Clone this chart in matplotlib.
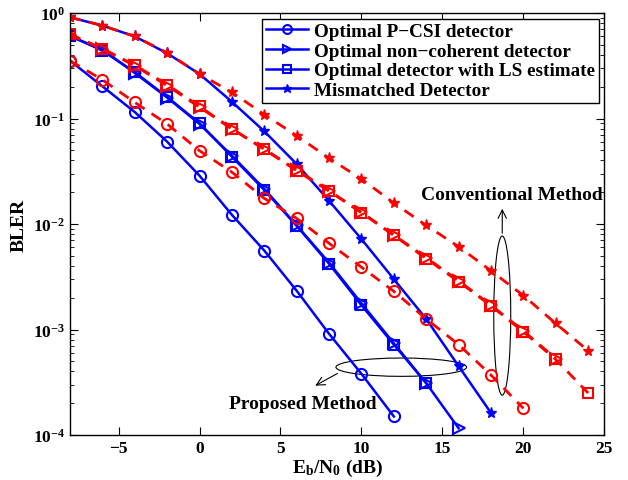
import matplotlib
matplotlib.use("Agg")
import matplotlib.pyplot as plt
from matplotlib.patches import Ellipse
import numpy as np

plt.rcParams['font.family'] = ['Liberation Serif', 'DejaVu Serif']
plt.rcParams['font.weight'] = 'bold'
plt.rcParams['mathtext.fontset'] = 'custom'
plt.rcParams['mathtext.rm'] = 'Liberation Serif:bold'
plt.rcParams['mathtext.it'] = 'Liberation Serif:bold'
plt.rcParams['mathtext.bf'] = 'Liberation Serif:bold'

# Data
x_blue_circle = [-8, -6, -4, -2, 0, 2, 4, 6, 8, 10, 12]
blue_circle = [0.353, 0.202, 0.115, 0.0603, 0.0287, 0.0122, 0.0056, 0.00233, 0.00091, 0.00038, 0.00015]
x_blue_tri = [-8, -6, -4, -2, 0, 2, 4, 6, 8, 10, 12, 14, 16]
blue_tri = [0.60, 0.45, 0.27, 0.158, 0.0887, 0.0444, 0.0215, 0.0097, 0.0043, 0.00177, 0.00074, 0.00031, 0.000116]
x_blue_sq = [-8, -6, -4, -2, 0, 2, 4, 6, 8, 10, 12, 14]
blue_sq = [0.61, 0.44, 0.275, 0.16, 0.090, 0.0435, 0.021, 0.0096, 0.0042, 0.0017, 0.00072, 0.00031]
x_blue_star = [-8, -6, -4, -2, 0, 2, 4, 6, 8, 10, 12, 14, 16, 18]
blue_star = [0.91, 0.76, 0.60, 0.415, 0.264, 0.144, 0.0756, 0.037, 0.0166, 0.0072, 0.0030, 0.00126, 0.00045, 0.000162]

x_red_circle = [-8, -6, -4, -2, 0, 2, 4, 6, 8, 10, 12, 14, 16, 18, 20]
red_circle = [0.353, 0.233, 0.142, 0.0887, 0.0495, 0.031, 0.0175, 0.0113, 0.00656, 0.0039, 0.0023, 0.00126, 0.00072, 0.00037, 0.000179]
x_red_tri = [-8, -6, -4, -2, 0, 2, 4, 6, 8, 10, 12, 14, 16, 18, 20, 22]
red_tri = [0.62, 0.456, 0.316, 0.205, 0.128, 0.0795, 0.0514, 0.0325, 0.0207, 0.0129, 0.00787, 0.0048, 0.0029, 0.0017, 0.00097, 0.00053]
x_red_sq = [-8, -6, -4, -2, 0, 2, 4, 6, 8, 10, 12, 14, 16, 18, 20, 22, 24]
red_sq = [0.63, 0.46, 0.32, 0.21, 0.13, 0.08, 0.051, 0.032, 0.0205, 0.0128, 0.0078, 0.0047, 0.00285, 0.00168, 0.00095, 0.00052, 0.00025]
x_red_star = [-8, -6, -4, -2, 0, 2, 4, 6, 8, 10, 12, 14, 16, 18, 20, 22, 24]
red_star = [0.91, 0.76, 0.60, 0.42, 0.264, 0.177, 0.109, 0.0687, 0.042, 0.0267, 0.0158, 0.0097, 0.0061, 0.0036, 0.0021, 0.00114, 0.00063]

labels = ['Optimal P\u2212CSI detector', 'Optimal non\u2212coherent detector',
          'Optimal detector with LS estimate', 'Mismatched Detector']

BLUE = '#0000ff'
RED = '#ff0000'

fig = plt.figure(figsize=(6.28, 4.81), dpi=100)
ax = fig.add_axes([70/628, 45/481, 534.3/628, 422/481])

lw_b = 1.8
lw_r = 2.0
ms = 8
ax.plot(x_blue_circle, blue_circle, '-', color=BLUE, lw=lw_b, marker='o', ms=ms, mfc='none', mew=1.5, label=labels[0])
ax.plot(x_blue_tri, blue_tri, '-', color=BLUE, lw=lw_b, marker='>', ms=ms, mfc='none', mew=1.5, label=labels[1])
ax.plot(x_blue_sq, blue_sq, '-', color=BLUE, lw=lw_b, marker='s', ms=7, mfc='none', mew=1.5, label=labels[2])
ax.plot(x_blue_star, blue_star, '-', color=BLUE, lw=lw_b, marker='*', ms=8, label=labels[3])

ax.plot(x_red_circle, red_circle, '--', color=RED, lw=lw_r, marker='o', ms=ms, mfc='none', mew=1.5, dashes=(4, 3))
ax.plot(x_red_tri, red_tri, '--', color=RED, lw=lw_r, marker='>', ms=ms, mfc='none', mew=1.5, dashes=(4, 3))
ax.plot(x_red_sq, red_sq, '--', color=RED, lw=lw_r, marker='s', ms=7, mfc='none', mew=1.5, dashes=(4, 3))
ax.plot(x_red_star, red_star, '--', color=RED, lw=lw_r, marker='*', ms=8, dashes=(4, 3))

ax.set_yscale('log')
ax.set_xlim(-8, 25)
ax.set_ylim(1e-4, 1)
ax.set_xticks([-5, 0, 5, 10, 15, 20, 25])
ax.set_xticklabels(['\u22125', '0', '5', '10', '15', '20', '25'])
ax.tick_params(which='both', direction='in', top=True, right=True, labelsize=12.5)
ax.tick_params(which='major', length=6)
ax.tick_params(which='minor', length=3)
for lab in ax.get_xticklabels() + ax.get_yticklabels():
    lab.set_fontweight('bold')
for s in ax.spines.values():
    s.set_linewidth(1.0)

ax.set_xlabel(r'E$_\mathregular{b}$/N$_\mathregular{0}$ (dB)', fontsize=14, fontweight='bold', labelpad=1)
ax.set_ylabel('BLER', fontsize=14, fontweight='bold', labelpad=4)

leg = ax.legend(loc='upper right', prop={'family': 'Liberation Serif', 'weight': 'bold', 'size': 13.8},
                frameon=True, fancybox=False, markerscale=0.8,
                edgecolor='black', framealpha=1, handlelength=2.2, handletextpad=0.3,
                labelspacing=0.12, borderpad=0.2, borderaxespad=0.3)
leg.get_frame().set_linewidth(1.0)

# Annotations
ax.add_patch(Ellipse((0.809, 0.283), 0.0318, 0.377, transform=ax.transAxes,
                     fill=False, ec='black', lw=0.8))
ax.annotate('', xy=(0.809, 0.5427), xytext=(0.809, 0.4716), xycoords='axes fraction',
            arrowprops=dict(arrowstyle='->', color='black', lw=0.8, mutation_scale=15))
ax.text(0.827, 0.571, 'Conventional Method', transform=ax.transAxes, ha='center', va='center',
        fontsize=14, fontweight='bold')

ax.add_patch(Ellipse((0.62, 0.1607), 0.2445, 0.0434, transform=ax.transAxes,
                     fill=False, ec='black', lw=0.8))
ax.annotate('', xy=(0.4545, 0.1137), xytext=(0.505, 0.149), xycoords='axes fraction',
            arrowprops=dict(arrowstyle='->', color='black', lw=0.8, mutation_scale=15))
ax.text(0.435, 0.0735, 'Proposed Method', transform=ax.transAxes, ha='center', va='center',
        fontsize=14, fontweight='bold')

fig.savefig('out.png', dpi=100)
